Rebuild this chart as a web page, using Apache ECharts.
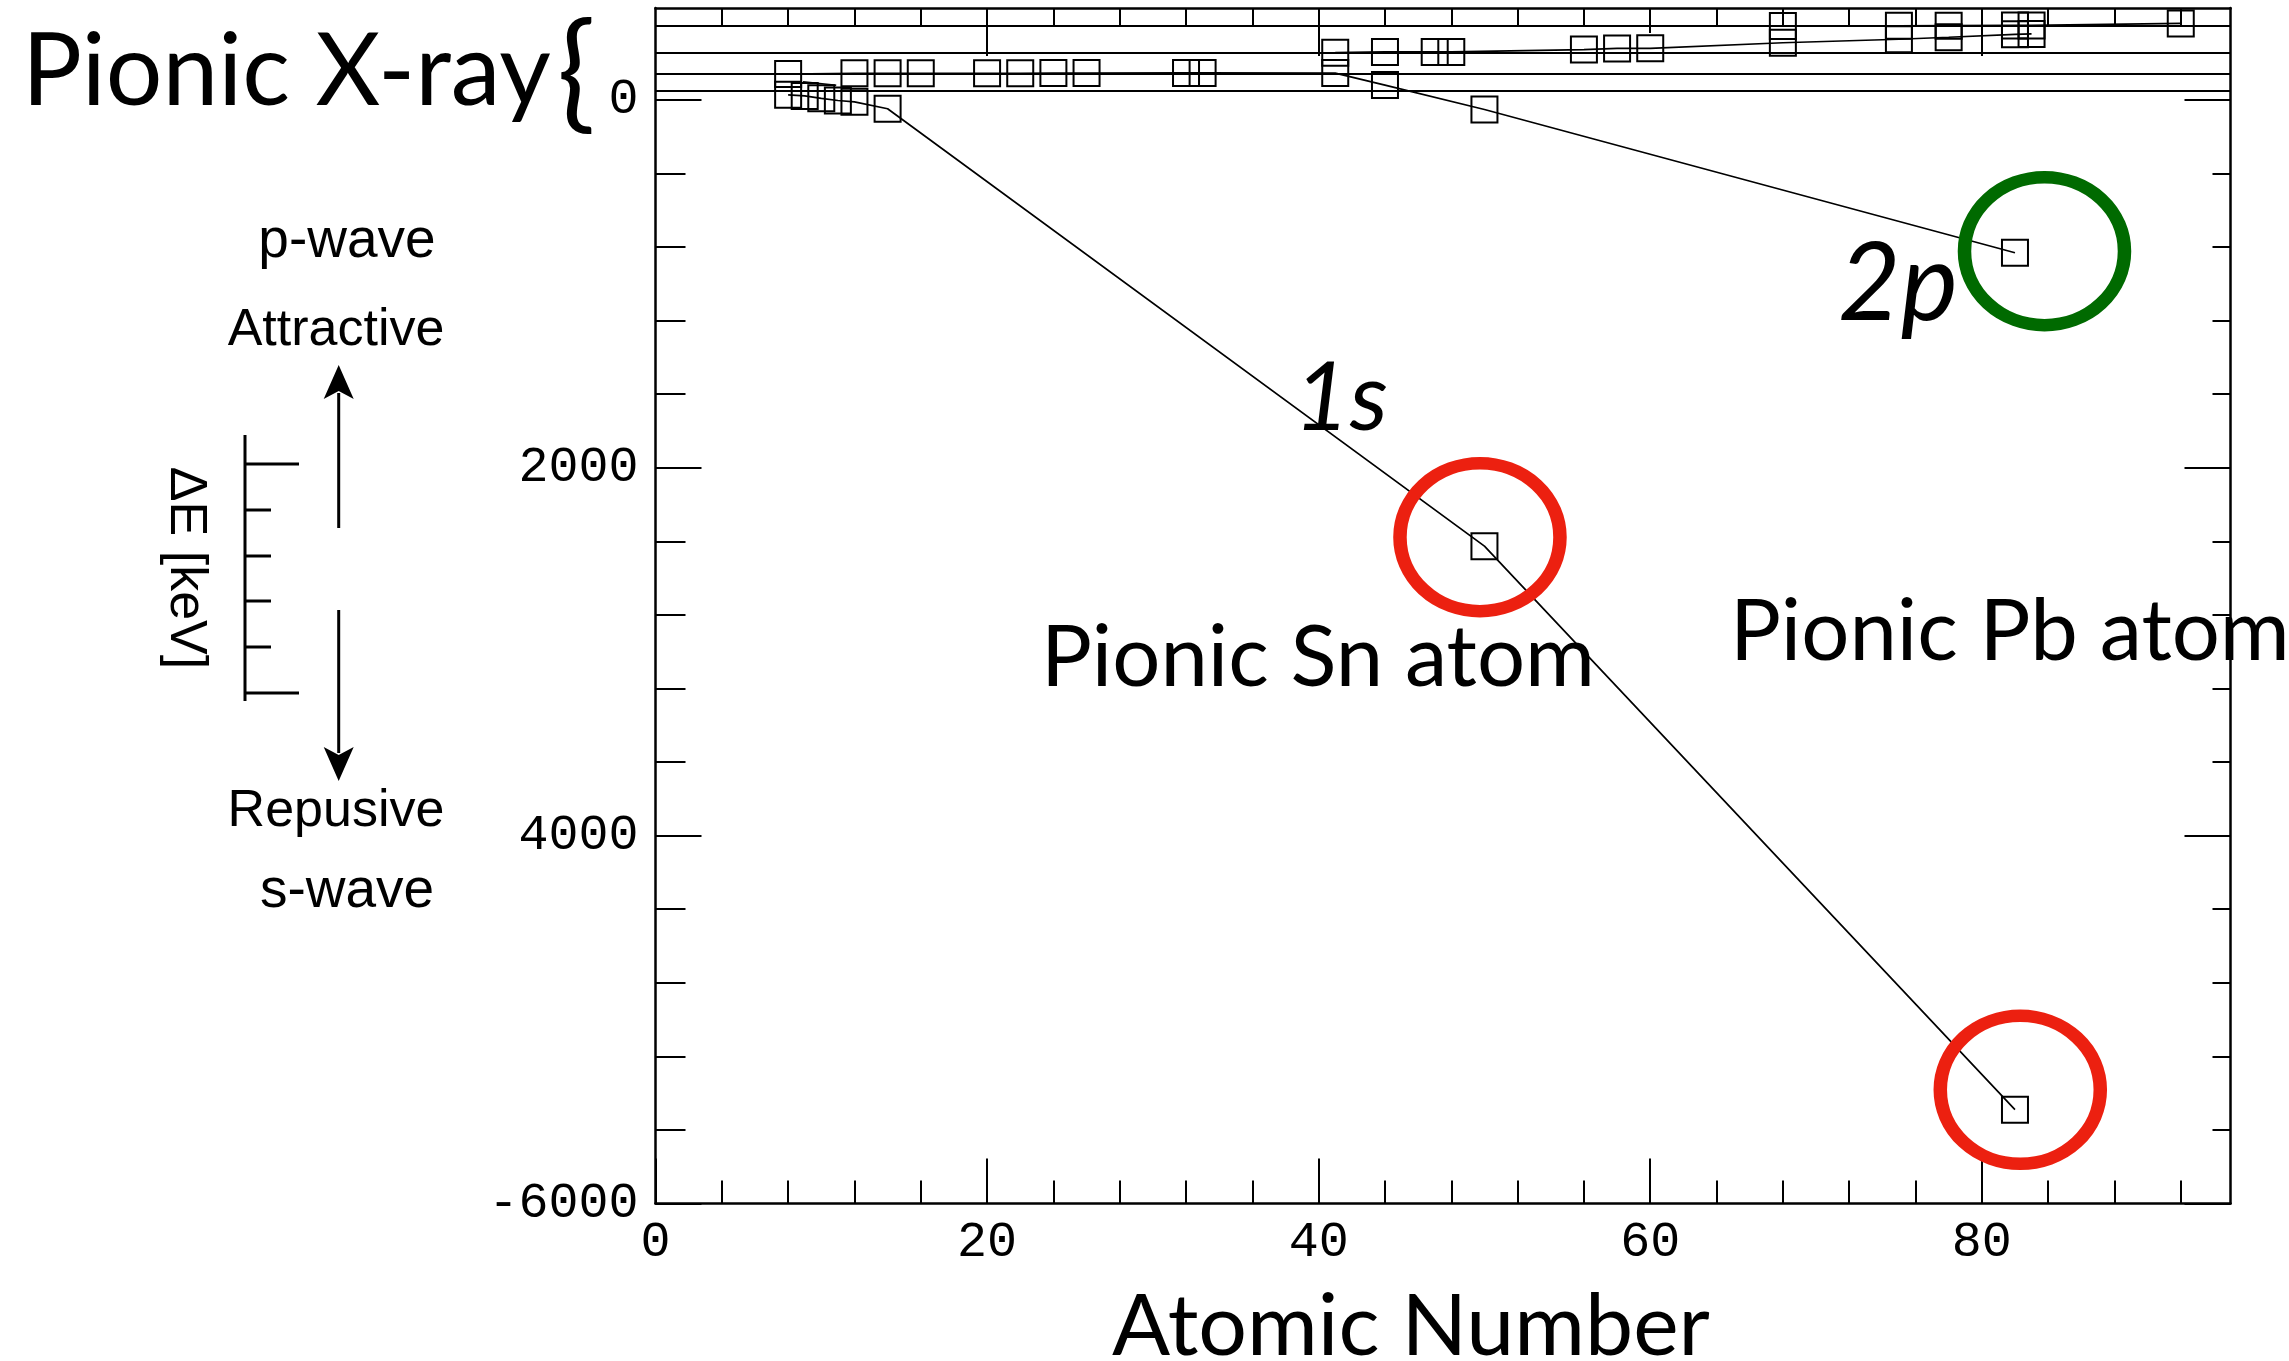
<!DOCTYPE html>
<html>
<head>
<meta charset="utf-8">
<script src="https://cdn.jsdelivr.net/npm/echarts@6/dist/echarts.min.js"></script>
<style>
  html, body { margin: 0; padding: 0; background: #fff; }
  #chart { width: 2289px; height: 1361px; }
</style>
</head>
<body>
<div id="chart"></div>
<script>
// Strong-interaction level shifts of pionic atoms, ΔE versus atomic number Z.
// Each series is [Z, ΔE] on the shared vertical scale.
const shift1s = [[8, 28], [9, 22], [10, 9], [11, -3], [12, -10], [14, -48], [50, -2426], [82, -5490]];
const shift2p = [[8, 141], [12, 145], [14, 145], [16, 145], [20, 145], [22, 145], [24, 146], [26, 146],
                 [32, 147], [33, 147], [41, 146], [44, 81], [50, -52], [82, -831]];
const shift2pLight = [[8.9, 99], [10.9, 80]];
const shift3d = [[41, 257], [44, 261], [47, 261], [48, 261], [56, 274], [58, 280], [60, 281],
                 [68, 311], [75, 330], [78, 341], [82, 357], [83, 359]];
const shift4f = [[68, 402], [75, 403], [78, 404], [82, 405], [83, 405], [92, 416]];

// Baselines of the compressed upper panels
const panelLines = [402, 257, 145, 50];

// Highlighted atoms (ring centres)
const ringsRed = [[49.73, -2377], [82.32, -5382]];
const ringsGreen = [[83.78, -822]];

// Axis ticks and labels
const xMajor = [0, 20, 40, 60, 80];
const yMajor = [-6000, -4000, -2000, 0];
const yLabelText = { '-6000': '-6000', '-4000': '4000', '-2000': '2000', '0': '0' };

const xMinor = [];
for (let z = 4; z <= 92; z += 4) if (z % 20 !== 0) xMinor.push(z);
const xTopAll = [];
for (let z = 4; z <= 92; z += 4) xTopAll.push(z);
const xTopDeep = [20, 40, 80];
const xTopMid = [60];
const yMinor = [];
for (let v = -5600; v < 0; v += 400) if (v % 2000 !== 0) yMinor.push(v);

const INK = '#000';
const RED = '#ec2010';
const GREEN = '#006a00';
const MONO = '"Liberation Mono", "DejaVu Sans Mono", monospace';
const HUMAN = 'Lato, "Open Sans", sans-serif';
const SANS = '"Liberation Sans", Arial, sans-serif';

function xAxisDef(position, ticks, len, withLine, withLabels) {
  return {
    type: 'value', min: 0, max: 95, position: position, offset: 0,
    axisLine: { show: withLine, onZero: false, lineStyle: { color: INK, width: 2.5 } },
    axisTick: { show: true, inside: true, length: len, customValues: ticks,
                lineStyle: { color: INK, width: 2 } },
    axisLabel: withLabels ? {
      show: true, customValues: xMajor, color: INK, fontFamily: MONO, fontSize: 50,
      lineHeight: 50, margin: 14, formatter: v => String(v)
    } : { show: false },
    splitLine: { show: false }
  };
}
function yAxisDef(position, ticks, len, withLine, withLabels) {
  return {
    type: 'value', min: -6000, max: 500, position: position, offset: 0,
    axisLine: { show: withLine, onZero: false, lineStyle: { color: INK, width: 2.5 } },
    axisTick: { show: true, inside: true, length: len, customValues: ticks,
                lineStyle: { color: INK, width: 2 } },
    axisLabel: withLabels ? {
      show: true, customValues: yMajor, color: INK, fontFamily: MONO, fontSize: 50,
      margin: 17, formatter: v => yLabelText[String(v)]
    } : { show: false },
    splitLine: { show: false }
  };
}

function levelSeries(name, data) {
  return {
    name: name, type: 'line', data: data,
    xAxisIndex: 0, yAxisIndex: 0,
    symbol: 'rect', symbolSize: 26,
    itemStyle: { color: 'rgba(0,0,0,0)', borderColor: INK, borderWidth: 2 },
    lineStyle: { color: INK, width: 1.7 },
    emphasis: { disabled: true }, z: 3
  };
}
function ringSeries(name, data, color) {
  return {
    name: name, type: 'scatter', data: data,
    xAxisIndex: 0, yAxisIndex: 0,
    symbol: 'circle', symbolSize: [160, 148],
    itemStyle: { color: 'rgba(0,0,0,0)', borderColor: color, borderWidth: 13, opacity: 1 },
    emphasis: { disabled: true }, z: 6, silent: true
  };
}

// Text placed by its baseline
function label(text, x, baseline, size, family, opts) {
  opts = opts || {};
  return {
    type: 'text', x: x, y: baseline - 0.32 * size, rotation: opts.rotation || 0,
    style: {
      text: text, fill: INK, fontFamily: family, fontSize: size,
      fontStyle: opts.italic ? 'italic' : 'normal',
      fontWeight: opts.weight || 'normal',
      align: opts.align || 'left', verticalAlign: 'middle'
    },
    z: 10
  };
}
function arrow(x, tipY, tailY) {
  const dir = tailY > tipY ? 1 : -1;  // +1: arrow points up
  return [
    { type: 'line', shape: { x1: x, y1: tailY, x2: x, y2: tipY + dir * 28 },
      style: { stroke: INK, lineWidth: 3 }, z: 10 },
    { type: 'polygon', shape: { points: [[x, tipY], [x - 15, tipY + dir * 34], [x, tipY + dir * 26], [x + 15, tipY + dir * 34]] },
      style: { fill: INK }, z: 10 }
  ];
}

const scaleTicks = [464, 510, 556, 601, 647, 693];
const bracket = [
  { type: 'line', shape: { x1: 245, y1: 435, x2: 245, y2: 701 }, style: { stroke: INK, lineWidth: 3 }, z: 10 }
].concat(scaleTicks.map((ty, i) => ({
  type: 'line',
  shape: { x1: 245, y1: ty, x2: (i === 0 || i === scaleTicks.length - 1) ? 299 : 271, y2: ty },
  style: { stroke: INK, lineWidth: 3 }, z: 10
})));

const chart = echarts.init(document.getElementById('chart'), null, { renderer: 'canvas' });
chart.setOption({
  animation: false,
  backgroundColor: '#fff',
  grid: { left: 655.5, right: 58.5, top: 8, bottom: 157.5, containLabel: false },
  xAxis: [
    xAxisDef('bottom', xMajor, 45, true, true),
    xAxisDef('bottom', xMinor, 23, false, false),
    xAxisDef('top', xTopAll, 18, true, false),
    xAxisDef('top', xTopDeep, 48, false, false),
    xAxisDef('top', xTopMid, 25, false, false)
  ],
  yAxis: [
    yAxisDef('left', yMajor, 46, true, true),
    yAxisDef('left', yMinor, 30, false, false),
    yAxisDef('right', yMajor, 46, true, false),
    yAxisDef('right', yMinor, 18, false, false)
  ],
  series: [
    levelSeries('1s', shift1s),
    levelSeries('2p', shift2p),
    Object.assign(levelSeries('2p light', shift2pLight), { symbol: 'none' }),
    levelSeries('3d', shift3d),
    Object.assign(levelSeries('4f', shift4f), {
      markLine: {
        silent: true, symbol: ['none', 'none'], label: { show: false },
        lineStyle: { color: INK, width: 2, type: 'solid' },
        emphasis: { disabled: true },
        data: panelLines.map(v => ({ yAxis: v }))
      }
    }),
    ringSeries('Sn/Pb 1s', ringsRed, RED),
    ringSeries('Pb 2p', ringsGreen, GREEN)
  ],
  graphic: [
    label('Pionic X-ray', 22, 105, 100, HUMAN),
    label('{', 557, 115, 128, HUMAN),
    label('Pionic Sn atom', 1041, 686, 85, HUMAN),
    label('Pionic Pb atom', 1730, 660, 85, HUMAN),
    label('1s', 1294, 430, 96, HUMAN, { italic: true }),
    label('2p', 1838, 320, 108, HUMAN, { italic: true }),
    label('Atomic Number', 1112, 1355, 86, HUMAN),
    label('p-wave', 347, 259, 55, SANS, { align: 'center' }),
    label('Attractive', 336, 347, 52, SANS, { align: 'center' }),
    label('Repusive', 336, 828, 52, SANS, { align: 'center' }),
    label('s-wave', 347, 909, 55, SANS, { align: 'center' }),
    {
      type: 'text', x: 185, y: 568, rotation: -Math.PI / 2,
      style: { text: 'ΔE [keV]', fill: INK, fontFamily: SANS, fontSize: 52,
               align: 'center', verticalAlign: 'middle' },
      z: 10
    }
  ].concat(arrow(338.7, 365, 528), arrow(338.7, 781, 610), bracket)
});
</script>
</body>
</html>
